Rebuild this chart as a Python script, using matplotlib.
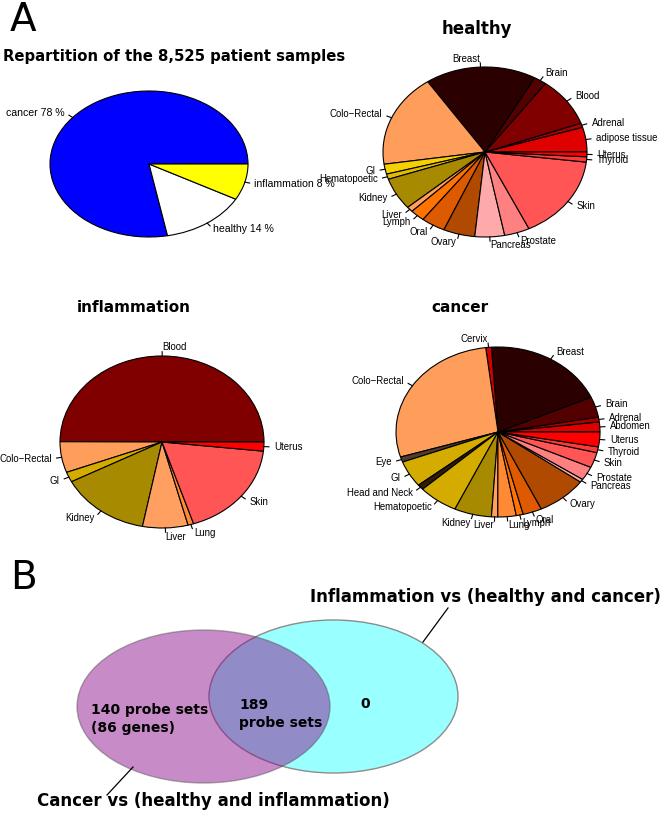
import numpy as np
import matplotlib
matplotlib.use('Agg')
import matplotlib.pyplot as plt
from matplotlib import font_manager
from matplotlib.patches import Ellipse

W, H = 670, 813

# data
main_labels = ['cancer', 'healthy', 'inflammation']
main_pct = [78, 14, 8]

healthy_tissues = ['adipose tissue', 'Adrenal', 'Blood', 'Brain', 'Breast', 'Colo\u2212Rectal', 'GI',
                   'Hematopoetic', 'Kidney', 'Liver', 'Lymph', 'Oral', 'Ovary', 'Pancreas',
                   'Prostate', 'Skin', 'Thyroid', 'Uterus']
healthy_pct = [4.7, 0.8, 9.4, 2.0, 17.6, 17.8, 1.9, 1.0, 6.1, 1.0, 2.3, 3.8, 5.0, 4.7, 4.0, 16.0, 1.0, 0.9]

infl_tissues = ['Blood', 'Colo\u2212Rectal', 'GI', 'Kidney', 'Liver', 'Lung', 'Skin', 'Uterus']
infl_pct = [50.0, 5.8, 1.9, 14.3, 7.2, 0.9, 18.3, 1.7]

cancer_tissues = ['Abdomen', 'Adrenal', 'Brain', 'Breast', 'Cervix', 'Colo\u2212Rectal', 'Eye', 'GI',
                  'Head and Neck', 'Hematopoetic', 'Kidney', 'Liver', 'Lung', 'Lymph', 'Oral',
                  'Ovary', 'Pancreas', 'Prostate', 'Skin', 'Thyroid', 'Uterus']
cancer_pct = [1.9, 0.9, 3.9, 19.3, 0.9, 27.8, 1.0, 5.0, 1.0, 6.3, 5.9, 1.0, 2.9, 1.1, 3.0,
              8.0, 0.6, 2.6, 2.9, 1.1, 2.8]

venn_counts = [140, 189, 0]
venn_genes = 86

# colours
tissue_col = {
    'Abdomen': '#DC0000', 'adipose tissue': '#E00000', 'Adrenal': '#AA0000', 'Blood': '#800000',
    'Brain': '#550000', 'Breast': '#2A0000', 'Cervix': '#D40000', 'Colo\u2212Rectal': '#FF9E5A',
    'Eye': '#4E3C30', 'GI': '#D4AC00', 'Head and Neck': '#2E1C0A', 'Hematopoetic': '#D4AC00',
    'Kidney': '#A88A00', 'Liver': '#FFA060', 'Lung': '#FF8A33', 'Lymph': '#FF7400',
    'Oral': '#DE5A00', 'Ovary': '#B04A00', 'Pancreas': '#FFAAAA', 'Prostate': '#FF8080',
    'Skin': '#FF5555', 'Thyroid': '#FF3838', 'Uterus': '#FF0000',
}
healthy_col = [tissue_col[t] for t in healthy_tissues]
healthy_col[healthy_tissues.index('GI')] = '#F5D000'
healthy_col[healthy_tissues.index('Hematopoetic')] = '#E2BC00'
infl_col = [tissue_col[t] for t in infl_tissues]
cancer_col = [tissue_col[t] for t in cancer_tissues]

avail = {f.name for f in font_manager.fontManager.ttflist}
narrow = 'Liberation Sans Narrow' if 'Liberation Sans Narrow' in avail else 'Liberation Sans'
lab_size = 8.0 if narrow == 'Liberation Sans Narrow' else 6.9
main_size = 9.0 if narrow == 'Liberation Sans Narrow' else 7.6

fig = plt.figure(figsize=(W / 100, H / 100), dpi=100)
fig.patch.set_facecolor('white')


def r_pie(cx, cy, rx, ry, values, labels, colors, fsize):
    ax = fig.add_axes([(cx - rx) / W, 1 - (cy + ry) / H, 2 * rx / W, 2 * ry / H])
    wedges, _ = ax.pie(values, colors=colors, startangle=0, counterclock=True,
                       wedgeprops=dict(edgecolor='black', linewidth=0.8))
    ax.set_aspect('auto')
    ax.set_xlim(-1, 1)
    ax.set_ylim(-1, 1)
    ax.axis('off')
    for w, lab in zip(wedges, labels):
        t = np.deg2rad((w.theta1 + w.theta2) / 2)
        c, s = np.cos(t), np.sin(t)
        ax.plot([c, 1.05 * c], [s, 1.05 * s], color='black', lw=0.8, clip_on=False)
        ax.text(1.1 * c, 1.1 * s, lab, ha='left' if c >= 0 else 'right', va='center',
                fontsize=fsize, family=narrow, clip_on=False)
    return ax


# panel A
fig.text(10 / W, 1 - 20 / H, 'A', fontsize=28, ha='left', va='center')
fig.text(3 / W, 1 - 57 / H, 'Repartition of the 8,525 patient samples', fontsize=10.7,
         fontweight='bold', ha='left', va='center')
r_pie(149, 164, 99, 73, main_pct, [f'{l} {p} %' for l, p in zip(main_labels, main_pct)],
      ['#0000FF', '#FFFFFF', '#FFFF00'], main_size)

fig.text(477 / W, 1 - 29 / H, 'healthy', fontsize=12, fontweight='bold', ha='center', va='center')
r_pie(485, 152, 102, 85, healthy_pct, healthy_tissues, healthy_col, lab_size)

fig.text(134 / W, 1 - 307 / H, 'inflammation', fontsize=11, fontweight='bold', ha='center', va='center')
r_pie(162, 442, 102, 86, infl_pct, infl_tissues, infl_col, lab_size)

fig.text(460 / W, 1 - 307 / H, 'cancer', fontsize=11, fontweight='bold', ha='center', va='center')
r_pie(498, 432, 102, 85, cancer_pct, cancer_tissues, cancer_col, lab_size)

# panel B
ax = fig.add_axes([0, 0, 1, 1])
ax.set_xlim(0, W)
ax.set_ylim(H, 0)
ax.axis('off')
fig.text(10 / W, 1 - 578 / H, 'B', fontsize=28, ha='left', va='center')
ax.add_patch(Ellipse((333.5, 696.5), 249, 153, facecolor='#99FFFF', edgecolor='#8C8C8C', lw=1))
ax.add_patch(Ellipse((203.5, 706.5), 253, 153, facecolor='#880A88', alpha=0.47,
                     edgecolor='#555555', lw=1))
ax.text(91, 719, f'{venn_counts[0]} probe sets\n({venn_genes} genes)', fontsize=10,
        fontweight='bold', ha='left', va='center', linespacing=1.3)
ax.text(239, 714, f'{venn_counts[1]}\nprobe sets', fontsize=10,
        fontweight='bold', ha='left', va='center', linespacing=1.3)
ax.text(365, 704, f'{venn_counts[2]}', fontsize=10, fontweight='bold', ha='center', va='center')
ax.plot([133, 107], [767, 795], color='black', lw=0.9)
ax.plot([423, 448], [642, 608], color='black', lw=0.9)
ax.text(37, 801, 'Cancer vs (healthy and inflammation)', fontsize=12, fontweight='bold',
        ha='left', va='center')
ax.text(310, 597, 'Inflammation vs (healthy and cancer)', fontsize=12, fontweight='bold',
        ha='left', va='center')

fig.savefig('out.png', dpi=100)
